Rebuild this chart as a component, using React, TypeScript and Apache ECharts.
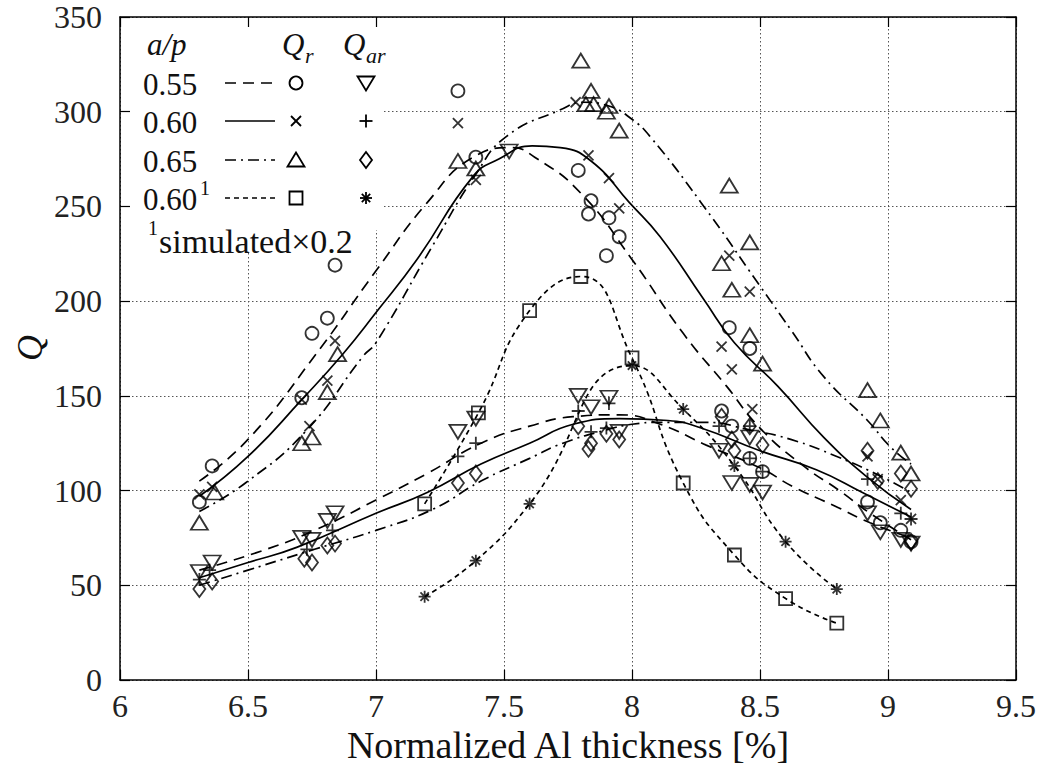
import React, { useEffect, useRef } from "react";
import * as echarts from "echarts";

// ---------- axes ----------
const xMin = 6;
const xMax = 9.5;
const xInterval = 0.5;
const yMin = 0;
const yMax = 350;
const yInterval = 50;
const xTitle = "Normalized Al thickness [%]";
const yTitle = "Q";

// ---------- measured points: Qr (a/p) ----------
const qr055: number[][] = [
  [6.31, 94], [6.36, 113], [6.71, 149], [6.75, 183], [6.81, 191], [6.84, 219],
  [7.32, 311], [7.39, 276], [7.79, 269], [7.84, 253], [7.83, 246], [7.91, 244],
  [7.95, 234], [7.9, 224], [8.38, 186], [8.46, 175], [8.35, 142], [8.39, 134],
  [8.46, 117], [8.51, 110], [8.92, 94], [8.97, 83], [9.05, 79], [9.09, 73],
];
const qr060: number[][] = [
  [6.31, 98], [6.36, 102], [6.71, 148], [6.74, 134], [6.81, 158], [6.84, 179],
  [7.32, 294], [7.39, 264], [7.78, 305], [7.83, 277], [7.91, 265], [7.95, 249],
  [8.38, 224], [8.46, 205], [8.35, 176], [8.39, 164], [8.47, 143],
  [8.92, 118], [8.96, 106], [9.05, 95], [9.09, 85],
];
const qr065: number[][] = [
  [6.31, 83], [6.37, 99], [6.71, 125], [6.75, 128], [6.81, 152], [6.85, 172],
  [7.32, 274], [7.39, 270], [7.8, 327], [7.84, 311], [7.82, 304], [7.85, 304],
  [7.91, 303], [7.9, 300], [7.95, 290], [8.38, 261], [8.46, 231], [8.35, 220],
  [8.39, 206], [8.46, 182], [8.51, 167], [8.92, 153], [8.97, 137], [9.05, 120], [9.09, 109],
];
// ---------- measured points: Qar (a/p) ----------
const qar055: number[][] = [
  [6.31, 57], [6.36, 62], [6.71, 75], [6.75, 74], [6.81, 84], [6.84, 88],
  [7.32, 131], [7.39, 138], [7.52, 279], [7.79, 150], [7.84, 144], [7.91, 149],
  [7.95, 131], [8.34, 121], [8.39, 104], [8.46, 103], [8.51, 99], [8.46, 128],
  [8.92, 88], [8.97, 78], [9.05, 74], [9.09, 72],
];
const qar060: number[][] = [
  [6.31, 53], [6.35, 58], [6.73, 69], [6.83, 79], [7.32, 118], [7.39, 125],
  [7.79, 142], [7.91, 146], [7.9, 133], [7.84, 131], [8.34, 134], [8.46, 134],
  [8.46, 117], [8.51, 110], [8.92, 106], [9.05, 88], [9.09, 85],
];
const qar065: number[][] = [
  [6.31, 48], [6.36, 52], [6.72, 64], [6.75, 62], [6.81, 71], [6.84, 72],
  [7.32, 104], [7.39, 109], [7.79, 134], [7.84, 125], [7.83, 122], [7.9, 130],
  [7.95, 127], [8.35, 139], [8.39, 127], [8.4, 121], [8.46, 134], [8.51, 124],
  [8.92, 121], [8.96, 105], [9.05, 109], [9.09, 101], [9.09, 73],
];
// ---------- simulated (x0.2) ----------
const simQr: number[][] = [
  [7.19, 93], [7.4, 141], [7.6, 195], [7.8, 213], [8.0, 170], [8.2, 104], [8.4, 66], [8.6, 43], [8.8, 30],
];
const simQar: number[][] = [
  [7.19, 44], [7.39, 63], [7.6, 93], [8.0, 166], [8.2, 143], [8.4, 113], [8.6, 73], [8.8, 48],
];

// ---------- fitted curves ----------
const fitQr055: number[][] = [
  [6.31, 105], [6.5, 127], [6.76, 171], [7.0, 216], [7.2, 252], [7.38, 276], [7.53, 281],
  [7.62, 276], [7.8, 257], [8.0, 222], [8.2, 183], [8.37, 155], [8.5, 133], [8.67, 113],
  [8.81, 100], [8.93, 88], [9.09, 74],
];
const fitQr060: number[][] = [
  [6.31, 97], [6.5, 118], [6.71, 148], [6.87, 172], [7.0, 194], [7.16, 222], [7.38, 266],
  [7.48, 275], [7.61, 282], [7.72, 281], [7.84, 274], [7.99, 252], [8.11, 234], [8.28, 201],
  [8.4, 178], [8.57, 155], [8.75, 128], [8.92, 107], [9.09, 90],
];
const fitQr065: number[][] = [
  [6.31, 89], [6.49, 104], [6.73, 132], [6.95, 171], [7.0, 178], [7.22, 229], [7.39, 267],
  [7.51, 287], [7.72, 301], [7.81, 305], [7.91, 303], [8.0, 296], [8.07, 287], [8.27, 252],
  [8.5, 208], [8.62, 185], [8.75, 160], [8.92, 137], [9.01, 123], [9.09, 114],
];
const fitQar055: number[][] = [
  [6.31, 58], [6.55, 68], [6.76, 79], [7.0, 95], [7.2, 109], [7.41, 125], [7.6, 134],
  [7.77, 139], [7.95, 140], [8.11, 135], [8.29, 124], [8.5, 112], [8.63, 102], [8.79, 92],
  [8.93, 83], [9.09, 75],
];
const fitQar060: number[][] = [
  [6.31, 54], [6.5, 62], [6.69, 70], [7.0, 88], [7.2, 99], [7.41, 114], [7.6, 125],
  [7.77, 135], [7.95, 138], [8.14, 137], [8.27, 133], [8.5, 121], [8.72, 111], [8.9, 99], [9.09, 86],
];
const fitQar065: number[][] = [
  [6.31, 50], [6.5, 58], [6.76, 69], [7.0, 79], [7.22, 90], [7.41, 105], [7.6, 117],
  [7.73, 125], [7.9, 132], [8.0, 135], [8.11, 136], [8.29, 136], [8.46, 132], [8.62, 127],
  [8.8, 118], [8.98, 107], [9.09, 99],
];

// ---------- legend ----------
const legendRows = ["0.55", "0.60", "0.65", "0.60"];
const legendNote = "simulated\u00d70.2";

const FONT = "'Liberation Serif', 'DejaVu Serif', serif";
const INK = "#111";
const LONG_DASH = [11, 7];
const DASH_DOT = [11, 5, 2, 5];
const SHORT_DASH = [5, 4];

const CROSS = "path://M0,0L10,10M10,0L0,10";
const PLUS = "path://M5,0L5,10M0,5L10,5";
const STAR = "path://M5,0L5,10M0,5L10,5M1.5,1.5L8.5,8.5M8.5,1.5L1.5,8.5";

function scatter(data: number[][], symbol: string, size: number | number[], rotate = 0) {
  return {
    type: "scatter",
    data,
    symbol,
    symbolSize: size,
    symbolRotate: rotate,
    silent: true,
    z: 5,
    itemStyle: { color: "none", borderColor: "#000", borderWidth: 1.8 },
  };
}

function curve(data: number[][], dash: any) {
  return {
    type: "line",
    data,
    smooth: 0.5,
    showSymbol: false,
    symbol: "none",
    silent: true,
    z: 4,
    lineStyle: { color: "#000", width: 1.7, type: dash },
  };
}

function legendMarker(kind: string, cx: number, cy: number): any[] {
  const st = { fill: "none", stroke: "#000", lineWidth: 1.8 };
  const ln = (x1: number, y1: number, x2: number, y2: number) => ({
    type: "line",
    z: 6,
    shape: { x1, y1, x2, y2 },
    style: { stroke: "#000", lineWidth: 1.8 },
  });
  switch (kind) {
    case "circle":
      return [{ type: "circle", z: 6, shape: { cx, cy, r: 6.5 }, style: st }];
    case "tri":
      return [{ type: "polygon", z: 6, shape: { points: [[cx - 8.5, cy + 6.5], [cx + 8.5, cy + 6.5], [cx, cy - 7.5]] }, style: st }];
    case "itri":
      return [{ type: "polygon", z: 6, shape: { points: [[cx - 8.5, cy - 6.5], [cx + 8.5, cy - 6.5], [cx, cy + 7.5]] }, style: st }];
    case "diamond":
      return [{ type: "polygon", z: 6, shape: { points: [[cx, cy - 8], [cx + 6, cy], [cx, cy + 8], [cx - 6, cy]] }, style: st }];
    case "square":
      return [{ type: "rect", z: 6, shape: { x: cx - 6.5, y: cy - 6.5, width: 13, height: 13 }, style: st }];
    case "x":
      return [ln(cx - 5, cy - 5, cx + 5, cy + 5), ln(cx + 5, cy - 5, cx - 5, cy + 5)];
    case "plus":
      return [ln(cx - 6.5, cy, cx + 6.5, cy), ln(cx, cy - 6.5, cx, cy + 6.5)];
    case "star":
      return [
        ln(cx - 6, cy, cx + 6, cy), ln(cx, cy - 6, cx, cy + 6),
        ln(cx - 4.2, cy - 4.2, cx + 4.2, cy + 4.2), ln(cx + 4.2, cy - 4.2, cx - 4.2, cy + 4.2),
      ];
  }
  return [];
}

function txt(text: string, x: number, y: number, size: number, opts: any = {}) {
  return {
    type: "text",
    z: 6,
    x,
    y,
    rotation: opts.rotation || 0,
    style: {
      text,
      fill: INK,
      font: `${opts.italic ? "italic " : ""}${size}px ${FONT}`,
      textAlign: opts.align || "left",
      textVerticalAlign: "middle",
    },
  };
}

function buildGraphic() {
  const els: any[] = [];
  // white key background
  els.push({ type: "rect", z: 1, shape: { x: 121, y: 18, width: 262, height: 212 }, style: { fill: "#fff" } });
  els.push({ type: "rect", z: 1, shape: { x: 121, y: 229, width: 249, height: 23 }, style: { fill: "#fff" } });
  // headers
  els.push(txt("a/p", 147, 44, 31, { italic: true }));
  els.push(txt("Q", 282, 44, 31, { italic: true }));
  els.push(txt("r", 305, 55, 22, { italic: true }));
  els.push(txt("Q", 343, 44, 31, { italic: true }));
  els.push(txt("ar", 366, 55, 22, { italic: true }));
  const rowY = [83, 121, 160, 198];
  const dashes: any[] = [LONG_DASH, null, DASH_DOT, SHORT_DASH];
  const qrKinds = ["circle", "x", "tri", "square"];
  const qarKinds = ["itri", "plus", "diamond", "star"];
  legendRows.forEach((label, i) => {
    const y = rowY[i];
    els.push(txt(label, 143, y + 1, 31));
    const ls: any = { stroke: "#000", lineWidth: 1.7 };
    if (dashes[i]) ls.lineDash = dashes[i];
    els.push({ type: "line", z: 6, shape: { x1: 225, y1: y, x2: 275, y2: y }, style: ls });
    els.push(...legendMarker(qrKinds[i], 296, y));
    els.push(...legendMarker(qarKinds[i], 366, y));
  });
  els.push(txt("1", 200, 188, 20));
  els.push(txt("1", 148, 228, 20));
  els.push(txt(legendNote, 159, 241, 34));
  // axis titles
  els.push(txt(xTitle, 568, 745, 38, { align: "center" }));
  els.push(txt(yTitle, 30, 348, 36, { italic: true, align: "center", rotation: Math.PI / 2 }));
  return els;
}

export default function App() {
  const ref = useRef<HTMLDivElement>(null);
  useEffect(() => {
    if (!ref.current) return;
    const chart = echarts.init(ref.current, null, { renderer: "svg" });
    const labelStyle = { color: "#222", fontSize: 32, fontFamily: FONT };
    const frame = { show: true, onZero: false, lineStyle: { color: "#000", width: 1.5 } };
    const tick = { show: true, inside: true, length: 10, lineStyle: { color: "#000", width: 1.2 } };
    const baseX = { type: "value", min: xMin, max: xMax, interval: xInterval };
    const baseY = { type: "value", min: yMin, max: yMax, interval: yInterval };
    const split = { show: true, lineStyle: { color: "#555", width: 1, type: [1.5, 2.5] } };
    chart.setOption({
      animation: false,
      backgroundColor: "#fff",
      grid: { left: 120, right: 23, top: 17, bottom: 89, containLabel: false },
      xAxis: [
        { ...baseX, position: "bottom", z: 0, axisLine: { show: false }, axisTick: { show: false },
          splitLine: split, axisLabel: { ...labelStyle, margin: 10 } },
        { ...baseX, position: "bottom", z: 3, axisLine: frame, axisTick: tick, splitLine: { show: false }, axisLabel: { show: false } },
        { ...baseX, position: "top", z: 3, axisLine: frame, axisTick: tick, splitLine: { show: false }, axisLabel: { show: false } },
      ],
      yAxis: [
        { ...baseY, position: "left", z: 0, axisLine: { show: false }, axisTick: { show: false },
          splitLine: split, axisLabel: { ...labelStyle, margin: 18 } },
        { ...baseY, position: "left", z: 3, axisLine: frame, axisTick: tick, splitLine: { show: false }, axisLabel: { show: false } },
        { ...baseY, position: "right", z: 3, axisLine: frame, axisTick: tick, splitLine: { show: false }, axisLabel: { show: false } },
      ],
      graphic: { elements: buildGraphic() },
      series: [
        curve(fitQr055, LONG_DASH),
        curve(fitQr060, "solid"),
        curve(fitQr065, DASH_DOT),
        curve(fitQar055, LONG_DASH),
        curve(fitQar060, "solid"),
        curve(fitQar065, DASH_DOT),
        curve(simQr, SHORT_DASH),
        curve(simQar, SHORT_DASH),
        scatter(qr055, "circle", 13),
        scatter(qr060, CROSS, 10),
        scatter(qr065, "triangle", [17, 14]),
        scatter(qar055, "triangle", [17, 14], 180),
        scatter(qar060, PLUS, 13),
        scatter(qar065, "diamond", [12, 16]),
        scatter(simQr, "rect", 13),
        scatter(simQar, STAR, 12),
      ],
    });
    return () => chart.dispose();
  }, []);
  return (
    <div
      ref={ref}
      style={{ position: "fixed", left: 0, top: 0, width: 1039, height: 769, background: "#fff" }}
    />
  );
}
